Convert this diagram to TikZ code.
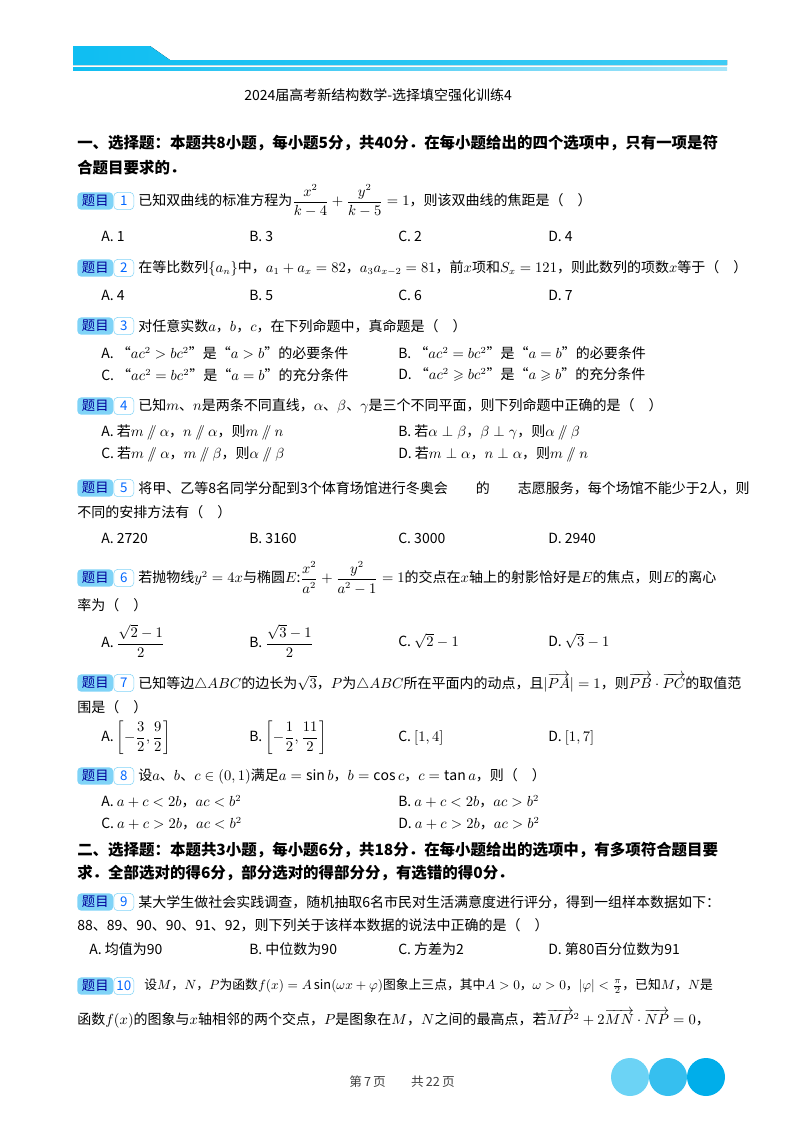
\documentclass[tikz,border=0pt]{standalone}
\usepackage{amsmath,amssymb}
\usepackage{fontspec}
\setmainfont{Noto Sans CJK SC}
\usetikzlibrary{calc}
\definecolor{cyanA}{HTML}{0FBEF2}
\definecolor{cyanB}{HTML}{6CD3F5}
\definecolor{cyanC}{HTML}{36BFEF}
\definecolor{cyanD}{HTML}{00AEEA}
\definecolor{badge}{HTML}{7FD3F7}
\newcommand{\pll}{\mathbin{/\!\!/}}
\newcommand{\qbadge}[3]{%
  \node[badgebox] (#1) at (77,#2) {题目};
  \node[numbox] (#1n) at (#1.east) {#3};}
\tikzset{
  t/.style={anchor=west,inner sep=0,font=\fontsize{10.5}{12}\selectfont},
  h/.style={anchor=west,inner sep=0,font=\fontsize{11.6}{13}\selectfont\bfseries},
  badgebox/.style={anchor=west,fill=badge,rounded corners=3pt,minimum width=27pt,minimum height=13pt,inner sep=0,text=blue!60!black,font=\fontsize{10}{11}\selectfont},
  numbox/.style={anchor=west,draw=badge,fill=white,rounded corners=3pt,minimum width=15pt,minimum height=13pt,inner sep=0,text=blue!60!cyan,font=\fontsize{10}{11}\selectfont},
  dot/.style={circle,minimum size=28.5pt,inner sep=0}
}
\begin{document}
\begin{tikzpicture}[x=0.75pt,y=-0.75pt]
\useasboundingbox (0,0) rectangle (800,1132);
% header
\fill[left color=cyanA,right color=cyanA!80] (73,46) -- (150,46) -- (170,60) -- (727,60) -- (727,65) -- (73,65) -- cycle;
\fill[left color=cyanA,right color=cyanB!60] (73,67) rectangle (727,70);
\node[t,font=\fontsize{10.5}{12}\selectfont] (title) at (244,95) {2024届高考新结构数学-选择填空强化训练4};
% section 1
\node[h] (s1a) at (77,143) {一、选择题：本题共8小题，每小题5分，共40分．在每小题给出的四个选项中，只有一项是符};
\node[h] (s1b) at (77,168) {合题目要求的．};
% Q1
\qbadge{q1}{201}{1}
\node[t] (q1t) at (138,201) {已知双曲线的标准方程为$\dfrac{x^2}{k-4}+\dfrac{y^2}{k-5}=1$，则该双曲线的焦距是（\quad）};
\node[t] (q1a) at (101,236) {A.\ 1};
\node[t] (q1b) at (249,236) {B.\ 3};
\node[t] (q1c) at (398,236) {C.\ 2};
\node[t] (q1d) at (548,236) {D.\ 4};
% Q2
\qbadge{q2}{268}{2}
\node[t] (q2t) at (138,268) {在等比数列$\{a_n\}$中，$a_1+a_x=82$，$a_3a_{x-2}=81$，前$x$项和$S_x=121$，则此数列的项数$x$等于（\quad）};
\node[t] (q2a) at (101,295) {A.\ 4};
\node[t] (q2b) at (249,295) {B.\ 5};
\node[t] (q2c) at (398,295) {C.\ 6};
\node[t] (q2d) at (548,295) {D.\ 7};
% Q3
\qbadge{q3}{326}{3}
\node[t] (q3t) at (138,326) {对任意实数$a$，$b$，$c$，在下列命题中，真命题是（\quad）};
\node[t] (q3a) at (101,353) {A.\ “$ac^2>bc^2$”是“$a>b$”的必要条件};
\node[t] (q3b) at (398,353) {B.\ “$ac^2=bc^2$”是“$a=b$”的必要条件};
\node[t] (q3c) at (101,375) {C.\ “$ac^2=bc^2$”是“$a=b$”的充分条件};
\node[t] (q3d) at (398,375) {D.\ “$ac^2\geqslant bc^2$”是“$a\geqslant b$”的充分条件};
% Q4
\qbadge{q4}{406}{4}
\node[t] (q4t) at (138,406) {已知$m$、$n$是两条不同直线，$\alpha$、$\beta$、$\gamma$是三个不同平面，则下列命题中正确的是（\quad）};
\node[t] (q4a) at (101,432) {A.\ 若$m\pll\alpha$，$n\pll\alpha$，则$m\pll n$};
\node[t] (q4b) at (398,432) {B.\ 若$\alpha\perp\beta$，$\beta\perp\gamma$，则$\alpha\pll\beta$};
\node[t] (q4c) at (101,454) {C.\ 若$m\pll\alpha$，$m\pll\beta$，则$\alpha\pll\beta$};
\node[t] (q4d) at (398,454) {D.\ 若$m\perp\alpha$，$n\perp\alpha$，则$m\pll n$};
% Q5
\qbadge{q5}{488}{5}
\node[t] (q5t) at (138,488) {将甲、乙等8名同学分配到3个体育场馆进行冬奥会\qquad 的\qquad 志愿服务，每个场馆不能少于2人，则};
\node[t] (q5t2) at (77,512) {不同的安排方法有（\quad）};
\node[t] (q5a) at (101,538) {A.\ 2720};
\node[t] (q5b) at (249,538) {B.\ 3160};
\node[t] (q5c) at (398,538) {C.\ 3000};
\node[t] (q5d) at (548,538) {D.\ 2940};
% Q6
\qbadge{q6}{578}{6}
\node[t] (q6t) at (138,578) {若抛物线$y^2=4x$与椭圆$E$:$\dfrac{x^2}{a^2}+\dfrac{y^2}{a^2-1}=1$的交点在$x$轴上的射影恰好是$E$的焦点，则$E$的离心};
\node[t] (q6t2) at (77,605) {率为（\quad）};
\node[t] (q6a) at (101,641) {A.\ $\dfrac{\sqrt2-1}{2}$};
\node[t] (q6b) at (249,641) {B.\ $\dfrac{\sqrt3-1}{2}$};
\node[t] (q6c) at (398,641) {C.\ $\sqrt2-1$};
\node[t] (q6d) at (548,641) {D.\ $\sqrt3-1$};
% Q7
\qbadge{q7}{683}{7}
\node[t] (q7t) at (138,683) {已知等边$\triangle ABC$的边长为$\sqrt3$，$P$为$\triangle ABC$所在平面内的动点，且$|\overrightarrow{PA}|=1$，则$\overrightarrow{PB}\cdot\overrightarrow{PC}$的取值范};
\node[t] (q7t2) at (77,707) {围是（\quad）};
\node[t] (q7a) at (101,738) {A.\ $\left[-\dfrac32,\dfrac92\right]$};
\node[t] (q7b) at (249,738) {B.\ $\left[-\dfrac12,\dfrac{11}2\right]$};
\node[t] (q7c) at (398,738) {C.\ $[1,4]$};
\node[t] (q7d) at (548,738) {D.\ $[1,7]$};
% Q8
\qbadge{q8}{776}{8}
\node[t] (q8t) at (138,776) {设$a$、$b$、$c\in(0,1)$满足$a=\sin b$，$b=\cos c$，$c=\tan a$，则（\quad）};
\node[t] (q8a) at (101,802) {A.\ $a+c<2b$，$ac<b^2$};
\node[t] (q8b) at (398,802) {B.\ $a+c<2b$，$ac>b^2$};
\node[t] (q8c) at (101,824) {C.\ $a+c>2b$，$ac<b^2$};
\node[t] (q8d) at (398,824) {D.\ $a+c>2b$，$ac>b^2$};
% section 2
\node[h] (s2a) at (77,850) {二、选择题：本题共3小题，每小题6分，共18分．在每小题给出的选项中，有多项符合题目要};
\node[h] (s2b) at (77,873) {求．全部选对的得6分，部分选对的得部分分，有选错的得0分．};
% Q9
\qbadge{q9}{902}{9}
\node[t] (q9t) at (138,902) {某大学生做社会实践调查，随机抽取6名市民对生活满意度进行评分，得到一组样本数据如下：};
\node[t] (q9t2) at (77,925) {88、89、90、90、91、92，则下列关于该样本数据的说法中正确的是（\quad）};
\node[t] (q9a) at (89,949) {A.\ 均值为90};
\node[t] (q9b) at (249,949) {B.\ 中位数为90};
\node[t] (q9c) at (398,949) {C.\ 方差为2};
\node[t] (q9d) at (548,949) {D.\ 第80百分位数为91};
% Q10
\qbadge{q10}{986}{10}
\node[t,font=\fontsize{9.6}{11}\selectfont] (q10t) at (144,986) {设$M$，$N$，$P$为函数$f(x)=A\sin(\omega x+\varphi)$图象上三点，其中$A>0$，$\omega>0$，$|\varphi|<\frac{\pi}{2}$，已知$M$，$N$是};
\node[t] (q10t2) at (77,1019) {函数$f(x)$的图象与$x$轴相邻的两个交点，$P$是图象在$M$，$N$之间的最高点，若$\overrightarrow{MP}^2+2\overrightarrow{MN}\cdot\overrightarrow{NP}=0$，};
% footer
\node[t,font=\fontsize{9.5}{11}\selectfont,text=black!75] (foot) at (349,1082) {第\,7\,页\qquad 共\,22\,页};
\node[dot,fill=cyanB] (c1) at (630,1077) {};
\node[dot,fill=cyanC] (c2) at (668,1077) {};
\node[dot,fill=cyanD] (c3) at (706,1077) {};
\end{tikzpicture}
\end{document}
